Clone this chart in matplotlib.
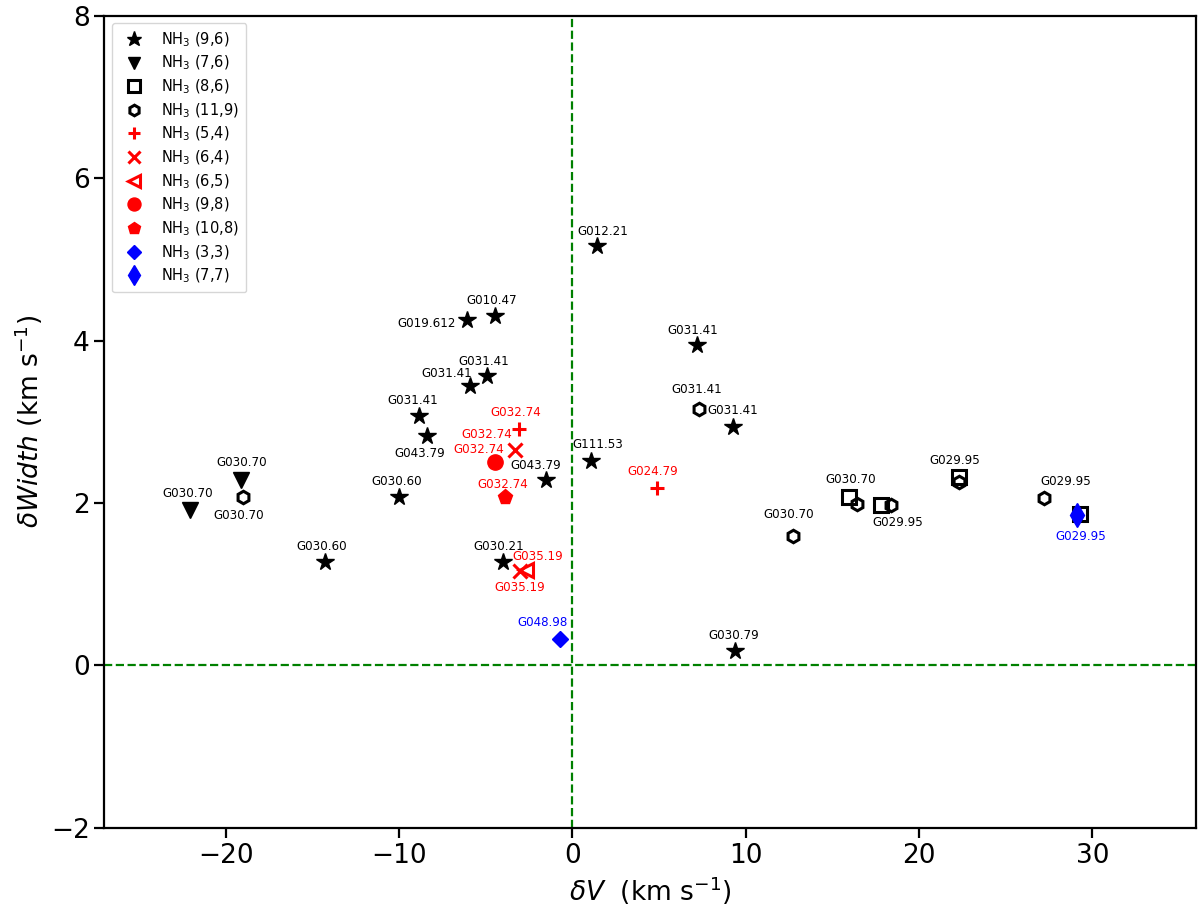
import matplotlib.pyplot as plt
import matplotlib
matplotlib.rcParams['font.family'] = 'DejaVu Sans'
matplotlib.rcParams['mathtext.fontset'] = 'dejavusans'
matplotlib.rcParams['axes.unicode_minus'] = True

# NH3 transitions: velocity offset (dV) and width offset (dW), with source names
v96 = [1.44, -4.44, -6.1, -4.9, -5.88, -8.87, -8.4, -10.0, -14.3, -1.55, -4.03, 1.09, 7.2, 9.27, 9.4]
w96 = [5.16, 4.30, 4.25, 3.56, 3.44, 3.07, 2.82, 2.08, 1.28, 2.28, 1.28, 2.52, 3.94, 2.93, 0.18]
n96 = ['G012.21', 'G010.47', 'G019.612', 'G031.41', 'G031.41', 'G031.41', 'G043.79', 'G030.60',
       'G030.60', 'G043.79', 'G030.21', 'G111.53', 'G031.41', 'G031.41', 'G030.79']

v76 = [-22.06, -19.1]
w76 = [1.91, 2.28]
n76 = ['G030.70', 'G030.70']

v86 = [15.96, 17.8, 22.3, 29.3]
w86 = [2.08, 1.97, 2.32, 1.86]
n86 = ['G030.70', 'G029.95', 'G029.95', '']

v119 = [-19.0, 7.33, 12.7, 16.4, 18.4, 22.3, 27.2]
w119 = [2.07, 3.16, 1.60, 1.99, 1.98, 2.26, 2.06]
n119 = ['G030.70', 'G031.41', 'G030.70', '', '', '', 'G029.95']

v54 = [-3.1, 4.9]
w54 = [2.91, 2.18]
n54 = ['G032.74', 'G024.79']

v64 = [-3.34, -3.05]
w64 = [2.65, 1.16]
n64 = ['G032.74', 'G035.19']

v65 = [-2.65]
w65 = [1.17]
n65 = ['G035.19']

v98 = [-4.44]
w98 = [2.50]
n98 = ['G032.74']

v108 = [-3.86]
w108 = [2.08]
n108 = ['G032.74']

v33 = [-0.69]
w33 = [0.33]
n33 = ['G048.98']

v77 = [29.1]
w77 = [1.85]
n77 = ['G029.95']

# label offsets (points) for each source label
off96 = [(4, 11), (-3, 11), (-29, -2), (-3, 11), (-17, 9), (-4, 11), (-5, -12), (-2, 11),
         (-2, 11), (-7, 11), (-3, 11), (5, 12), (-3, 11), (0, 12), (-1, 11)]
off76 = [(-2, 12), (0, 13)]
off86 = [(1, 12), (12, -12), (-3, 12), (0, 0)]
off119 = [(-3, -13), (-2, 14), (-3, 15), (0, 0), (0, 0), (0, 0), (16, 12)]
off54 = [(-2, 12), (-3, 12)]
off64 = [(-20, 11), (0, -12)]
off65 = [(8, 10)]
off98 = [(-12, 9)]
off108 = [(-2, 9)]
off33 = [(-13, 12)]
off77 = [(3, -15)]

fig = plt.figure(figsize=(12, 9.23), dpi=100)
ax = fig.add_axes([0.087, 0.103, 0.91, 0.88])

ax.axvline(0, color='green', ls='--', lw=1.6, zorder=0)
ax.axhline(0, color='green', ls='--', lw=1.6, zorder=0)

ax.plot(v96, w96, ls='none', marker='*', ms=13, color='black', label=r'NH$_3$ (9,6)')
ax.plot(v76, w76, ls='none', marker='v', ms=11, color='black', label=r'NH$_3$ (7,6)')
ax.plot(v86, w86, ls='none', marker='s', ms=10, mfc='none', mec='black', mew=2.2, label=r'NH$_3$ (8,6)')
ax.plot(v119, w119, ls='none', marker='h', ms=9, mfc='none', mec='black', mew=2.2, label=r'NH$_3$ (11,9)')
ax.plot(v54, w54, ls='none', marker='+', ms=10, mew=2.2, color='red', label=r'NH$_3$ (5,4)')
ax.plot(v64, w64, ls='none', marker='x', ms=10, mew=2.2, color='red', label=r'NH$_3$ (6,4)')
ax.plot(v65, w65, ls='none', marker='<', ms=10, mfc='none', mec='red', mew=2.2, label=r'NH$_3$ (6,5)')
ax.plot(v98, w98, ls='none', marker='o', ms=11, color='red', label=r'NH$_3$ (9,8)')
ax.plot(v108, w108, ls='none', marker='p', ms=11, color='red', label=r'NH$_3$ (10,8)')
ax.plot(v33, w33, ls='none', marker='D', ms=8.5, color='blue', label=r'NH$_3$ (3,3)')
ax.plot(v77, w77, ls='none', marker='d', ms=12, color='blue', label=r'NH$_3$ (7,7)')


def put_labels(xs, ys, names, offs, col):
    for x, y, n, o in zip(xs, ys, names, offs):
        if n:
            ax.annotate(n, (x, y), xytext=o, textcoords='offset points',
                        ha='center', va='center', fontsize=8.6, color=col)


put_labels(v96, w96, n96, off96, 'black')
put_labels(v76, w76, n76, off76, 'black')
put_labels(v86, w86, n86, off86, 'black')
put_labels(v119, w119, n119, off119, 'black')
put_labels(v54, w54, n54, off54, 'red')
put_labels(v64, w64, n64, off64, 'red')
put_labels(v65, w65, n65, off65, 'red')
put_labels(v98, w98, n98, off98, 'red')
put_labels(v108, w108, n108, off108, 'red')
put_labels(v33, w33, n33, off33, 'blue')
put_labels(v77, w77, n77, off77, 'blue')

ax.set_xlim(-27, 36)
ax.set_ylim(-2, 8)
ax.set_xticks([-20, -10, 0, 10, 20, 30])
ax.set_yticks([-2, 0, 2, 4, 6, 8])
ax.tick_params(labelsize=19, width=1.6, length=7)
for s in ax.spines.values():
    s.set_linewidth(1.6)

ax.set_xlabel(r'$\delta V$  (km s$^{-1}$)', fontsize=19)
ax.set_ylabel(r'$\delta Width$ (km s$^{-1}$)', fontsize=19)

ax.legend(loc='upper left', fontsize=10.5, markerscale=0.85, handletextpad=0.9,
          borderpad=0.5, labelspacing=0.36)

plt.savefig('out.png', dpi=100)
